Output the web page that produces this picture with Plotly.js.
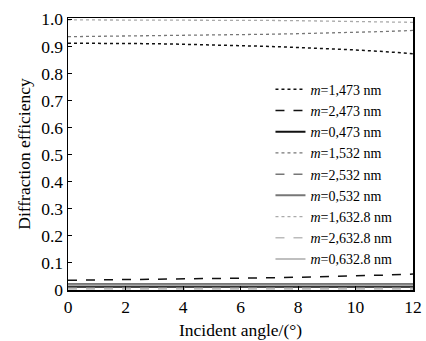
<!DOCTYPE html>
<html>
<head>
<meta charset="utf-8">
<script src="https://cdn.plot.ly/plotly-3.0.1.min.js"></script>
<style>html,body{margin:0;padding:0;background:#fff;}#chart{width:426px;height:341px;}</style>
</head>
<body>
<div id="chart"></div>
<script>
const angles = [0, 1, 2, 3, 4, 5, 6, 7, 8, 9, 10, 11, 12];
const eff_1_473 = [0.912, 0.912, 0.911, 0.910, 0.908, 0.906, 0.903, 0.900, 0.896, 0.892, 0.887, 0.881, 0.873];
const eff_2_473 = [0.036, 0.037, 0.038, 0.039, 0.040, 0.042, 0.043, 0.045, 0.047, 0.049, 0.052, 0.055, 0.059];
const eff_0_473 = [0.012, 0.012, 0.012, 0.012, 0.012, 0.012, 0.012, 0.012, 0.012, 0.012, 0.012, 0.012, 0.012];
const eff_1_532 = [0.936, 0.937, 0.938, 0.939, 0.940, 0.942, 0.943, 0.945, 0.947, 0.949, 0.952, 0.955, 0.959];
const eff_2_532 = [0.008, 0.008, 0.008, 0.008, 0.008, 0.008, 0.008, 0.008, 0.008, 0.008, 0.008, 0.008, 0.008];
const eff_0_532 = [0.022, 0.022, 0.022, 0.022, 0.022, 0.022, 0.022, 0.022, 0.022, 0.022, 0.022, 0.022, 0.022];
const eff_1_6328 = [0.998, 0.998, 0.998, 0.998, 0.997, 0.997, 0.996, 0.996, 0.995, 0.994, 0.993, 0.991, 0.989];
const eff_2_6328 = [0.004, 0.004, 0.004, 0.004, 0.004, 0.004, 0.004, 0.004, 0.004, 0.004, 0.004, 0.004, 0.004];
const eff_0_6328 = [0.017, 0.017, 0.017, 0.017, 0.017, 0.017, 0.017, 0.017, 0.017, 0.017, 0.017, 0.017, 0.017];
const seriesNames = ['<i>m</i>=1,473 nm','<i>m</i>=2,473 nm','<i>m</i>=0,473 nm','<i>m</i>=1,532 nm','<i>m</i>=2,532 nm','<i>m</i>=0,532 nm','<i>m</i>=1,632.8 nm','<i>m</i>=2,632.8 nm','<i>m</i>=0,632.8 nm'];
const yTickVals = [0,0.1,0.2,0.3,0.4,0.5,0.6,0.7,0.8,0.9,1.0];
const yTickText = ['0','0.1','0.2','0.3','0.4','0.5','0.6','0.7','0.8','0.9','1.0'];
const xTickVals = [0,2,4,6,8,10,12];

const values = [eff_1_473, eff_2_473, eff_0_473, eff_1_532, eff_2_532, eff_0_532, eff_1_6328, eff_2_6328, eff_0_6328];
const styles = [
  {color:'#111', dash:'dot', width:1.5},
  {color:'#111', dash:'dash', width:1.5},
  {color:'#111', dash:'solid', width:2.2},
  {color:'#777', dash:'dot', width:1.3},
  {color:'#777', dash:'dash', width:1.5},
  {color:'#777', dash:'solid', width:2},
  {color:'#aaa', dash:'dot', width:1.3},
  {color:'#bbb', dash:'dash', width:1.5},
  {color:'#aaa', dash:'solid', width:1.5}
];
const traces = values.map((v,i)=>({
  x: angles, y: v, type:'scatter', mode:'lines', name: seriesNames[i],
  line: styles[i]
}));
const FAM = 'Liberation Serif, Times New Roman, DejaVu Serif, serif';
const f = (s)=>({family:FAM, size:s, color:'#000'});
const layout = {
  width:426, height:341,
  margin:{l:68, r:13, t:18, b:51},
  paper_bgcolor:'#fff', plot_bgcolor:'#fff',
  font: f(16),
  showlegend:true,
  legend:{x:0.955, xanchor:'right', y:0.795, yanchor:'top', bgcolor:'rgba(0,0,0,0)',
          font:f(14), tracegroupgap:0, itemwidth:30},
  xaxis:{range:[0,12], tickvals:xTickVals, ticks:'inside', ticklen:4, tickcolor:'#000',
         showline:true, linecolor:'#000', linewidth:1.5, mirror:true, showgrid:false, zeroline:false,
         tickfont:f(17.5),
         title:{text:'Incident angle/(°)', font:f(17.5), standoff:8}},
  yaxis:{range:[0,1.005], tickvals:yTickVals, ticktext:yTickText, ticks:'inside', ticklen:4, tickcolor:'#000',
         showline:true, linecolor:'#000', linewidth:1.5, mirror:true, showgrid:false, zeroline:false,
         tickfont:f(17.5),
         title:{text:'Diffraction efficiency', font:f(17.5), standoff:6}}
};
Plotly.newPlot('chart', traces, layout, {displayModeBar:false, staticPlot:true});
</script>
</body>
</html>
